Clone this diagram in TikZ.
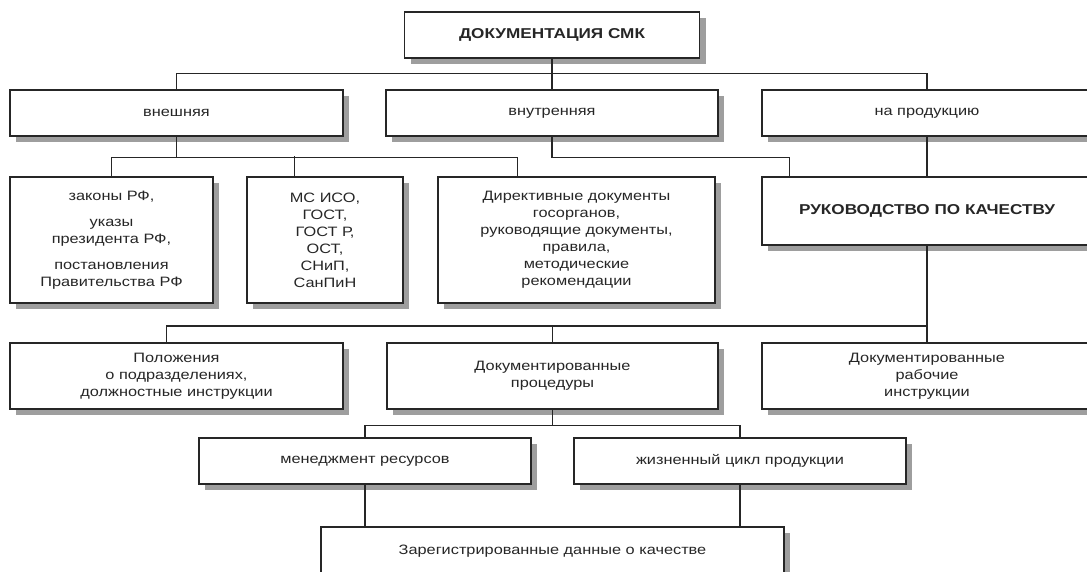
\documentclass[tikz,border=0pt]{standalone}
\usepackage{fontspec}
\setmainfont{Liberation Sans}[FakeStretch=1.2]
\usetikzlibrary{shadows}
\definecolor{ink}{HTML}{262626}
\definecolor{shade}{HTML}{9E9E9E}

\tikzset{
  box/.style={draw=ink, line width=1.4pt, fill=white, inner sep=0pt,
    align=center, text=ink, font=\fontsize{13.6}{17}\selectfont,
    drop shadow={shadow xshift=6pt, shadow yshift=-6pt, fill=shade, opacity=1}},
  boldbox/.style={box, font=\fontsize{14.3}{17}\selectfont\bfseries},
  link/.style={draw=ink, line width=1.4pt},
}

\begin{document}
\begin{tikzpicture}[x=1pt, y=-1pt]
\clip (0,0) rectangle (1087,571);
\fill[white] (0,0) rectangle (1087,571);

% root
\node[boldbox, minimum width=295, minimum height=46] (top) at (552,35) {ДОКУМЕНТАЦИЯ СМК};

% first level
\node[box, minimum width=333, minimum height=46] (ext)  at (176.5,113) {внешняя};
\node[box, minimum width=332, minimum height=46] (int)  at (552,113)   {внутренняя};
\node[box, minimum width=330, minimum height=46] (prod) at (927,113)   {на продукцию};

% second level
\node[box, minimum width=203, minimum height=126] (laws) at (111.5,240)
  {законы РФ,\\[9pt] указы\\ президента РФ,\\[9pt] постановления\\ Правительства РФ};
\node[box, minimum width=156, minimum height=126] (std) at (325,240)
  {МС ИСО,\\ ГОСТ,\\ ГОСТ Р,\\ ОСТ,\\ СНиП,\\ СанПиН};
\node[box, minimum width=277, minimum height=126] (dir) at (576.5,240)
  {Директивные документы\\ госорганов,\\ руководящие документы,\\ правила,\\ методические\\ рекомендации};
\node[boldbox, minimum width=330, minimum height=68] (qm) at (927,211) {РУКОВОДСТВО ПО КАЧЕСТВУ};

% third level
\node[box, minimum width=333, minimum height=66] (regs) at (176.5,376)
  {Положения\\ о подразделениях,\\ должностные инструкции};
\node[box, minimum width=331, minimum height=66] (proc) at (552.5,376)
  {Документированные\\ процедуры};
\node[box, minimum width=330, minimum height=66] (work) at (927,376)
  {Документированные\\ рабочие\\ инструкции};

% fourth level
\node[box, minimum width=332, minimum height=46] (res)  at (365,461) {менеджмент ресурсов};
\node[box, minimum width=332, minimum height=46] (life) at (740,461) {жизненный цикл продукции};

% records
\node[box, minimum width=463, minimum height=48] (rec) at (552.5,551) {Зарегистрированные данные о качестве};

% connectors
\draw[link] (top.south) -- (int.north);
\draw[link] (ext.north) -- ++(0,-16) -| (prod.north);

\draw[link] (ext.south) -- ++(0,21) coordinate (jA);
\draw[link] (laws.north) |- (jA) -| ([xshift=80pt]dir.north west);
\draw[link] ([xshift=48pt]std.north west) -- ++(0,-20);

\draw[link] (int.south) -- ++(0,21) -| ([xshift=28pt]qm.north west);
\draw[link] (prod.south) -- (qm.north);

\coordinate (jB) at (927,326);
\draw[link] (qm.south) -- (work.north);
\draw[link] ([xshift=-10pt]regs.north) |- (jB);
\draw[link] (proc.north) -- (proc.north |- jB);

\draw[link] (proc.south) -- ++(0,16) coordinate (jC);
\draw[link] (res.north) |- (jC) -| (life.north);

\draw[link] (res.south) -- (res.south |- rec.north);
\draw[link] (life.south) -- (life.south |- rec.north);
\end{tikzpicture}
\end{document}
